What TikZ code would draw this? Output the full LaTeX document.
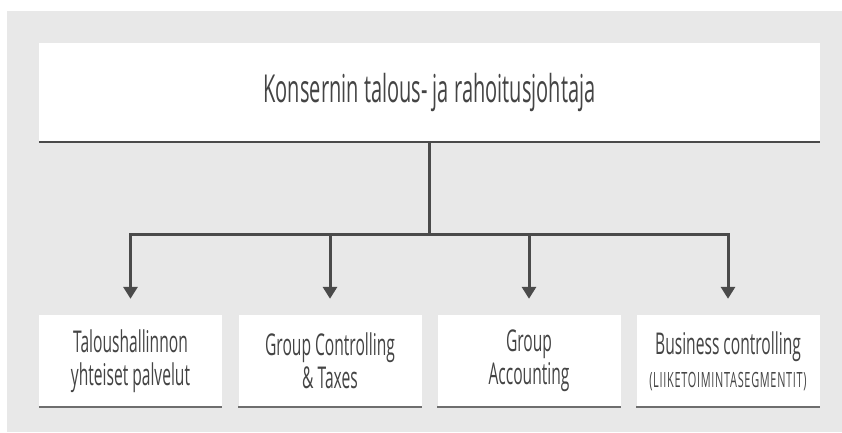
\documentclass[tikz,border=0pt]{standalone}
\usepackage{fontspec}
\setmainfont{Open Sans}[FakeStretch=0.52]
\usetikzlibrary{arrows.meta}
\definecolor{bggray}{HTML}{E8E8E8}
\definecolor{txtgray}{HTML}{444444}
\definecolor{linegray}{HTML}{4A4A4A}
\definecolor{rulegray}{HTML}{6E6E6E}
\tikzset{
  px/.style={x=1bp,y=-1bp},
  topbox/.style={fill=white, minimum width=781bp, minimum height=99bp, inner sep=0pt,
    text=txtgray, font=\fontsize{38.5bp}{44bp}\selectfont},
  unitbox/.style={fill=white, minimum width=183bp, minimum height=92bp, inner sep=0pt,
    text=txtgray, align=center, font=\fontsize{30bp}{33bp}\selectfont},
  baseline rule/.style={draw=rulegray, line width=2bp},
  toprule/.style={draw=linegray, line width=2bp},
  conn/.style={draw=linegray, line width=3bp},
  arr/.style={conn, -{Triangle[width=14bp,length=12bp]}, shorten >=16bp},
}
\begin{document}
\begin{tikzpicture}[px]
\useasboundingbox (0,0) rectangle (842,432);
\fill[bggray] (7,11) rectangle (842,432);
\node[topbox] (top) at (429.5,92.5) {Konsernin talous- ja rahoitusjohtaja};
\draw[toprule] (top.south west) -- (top.south east);
\node[unitbox] (b1) at (130.5,361) {Taloushallinnon\\yhteiset palvelut};
\node[unitbox] (b2) at (330,361) {Group Controlling\\\&~Taxes};
\node[unitbox] (b3) at (529,361) {Group\\Accounting};
\node[unitbox] (b4) at (728,361) {Business controlling\\{\fontsize{21bp}{24bp}\selectfont\addfontfeature{LetterSpace=3.4}(LIIKETOIMINTASEGMENTIT)}};
\foreach \b in {b1,b2,b3,b4} \draw[baseline rule] (\b.south west) -- (\b.south east);
\coordinate (bar) at (429.5,234);
\draw[conn] (top.south) -- (bar);
\foreach \b in {b1,b2,b3,b4} \draw[arr] (bar) -| (\b.north);
\end{tikzpicture}
\end{document}
